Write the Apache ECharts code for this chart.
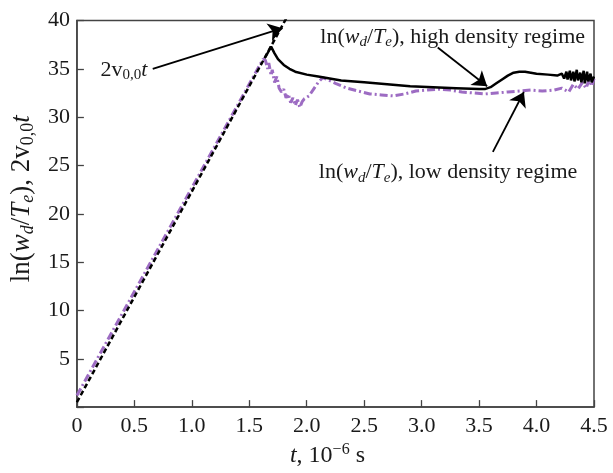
<!DOCTYPE html>
<html>
<head>
<meta charset="utf-8">
<script src="https://cdn.jsdelivr.net/npm/echarts@6/dist/echarts.min.js"></script>
<style>
  html, body { margin: 0; padding: 0; background: #fff; }
  #chart { width: 613px; height: 473px; }
</style>
</head>
<body>
<div id="chart"></div>
<script>
// reference line 2 v00 t
const tRef = [0, 1.83];
const lnRef = [0.5, 40.4];

// high density regime (its rising part lies under the dashed line)
const tHigh = [1.64, 1.69, 1.70, 1.72, 1.75, 1.80, 1.85, 1.90, 2.00, 2.10, 2.20, 2.30, 2.50, 2.70, 2.90,
  3.10, 3.30, 3.50, 3.55, 3.60, 3.65, 3.70, 3.75, 3.80, 3.85, 3.90, 3.95, 4.00, 4.10, 4.18, 4.22,
  4.24, 4.26, 4.27, 4.29, 4.30, 4.32, 4.33, 4.35, 4.36, 4.38, 4.39, 4.41, 4.42, 4.44, 4.45, 4.47,
  4.48, 4.50];
const lnHigh = [36.2, 37.3, 37.2, 36.6, 36.0, 35.4, 35.0, 34.7, 34.4, 34.2, 34.0, 33.8, 33.6, 33.4, 33.2,
  33.1, 33.0, 32.9, 32.9, 33.1, 33.5, 33.9, 34.3, 34.6, 34.7, 34.7, 34.6, 34.5, 34.4, 34.3, 34.5,
  34.0, 34.7, 33.9, 34.8, 33.8, 34.7, 33.7, 34.9, 33.8, 34.6, 33.6, 34.8, 33.5, 34.7, 33.7, 34.5,
  33.6, 34.2];

// low density regime
const tLow = [0, 1.62, 1.64, 1.66, 1.67, 1.69, 1.70, 1.72, 1.74, 1.76, 1.78, 1.80, 1.82, 1.84, 1.86,
  1.88, 1.90, 1.92, 1.94, 1.96, 1.98, 2.02, 2.06, 2.10, 2.14, 2.18, 2.25, 2.35, 2.45, 2.55, 2.65,
  2.75, 2.85, 2.95, 3.05, 3.15, 3.25, 3.35, 3.45, 3.55, 3.65, 3.75, 3.85, 3.95, 4.05, 4.15, 4.22,
  4.28, 4.32, 4.36, 4.40, 4.43, 4.46, 4.48, 4.50];
const lnLow = [1.2, 36.0, 35.9, 35.0, 35.6, 34.3, 34.9, 33.6, 34.2, 33.0, 32.6, 32.9, 32.0, 32.4, 31.5,
  32.0, 31.2, 31.8, 31.0, 31.6, 31.9, 32.2, 32.9, 33.6, 34.1, 33.9, 33.5, 33.0, 32.7, 32.4, 32.3,
  32.2, 32.4, 32.7, 32.8, 32.9, 32.8, 32.6, 32.5, 32.4, 32.5, 32.6, 32.7, 32.8, 32.7, 32.8, 33.0,
  32.6, 33.4, 32.9, 33.6, 33.0, 33.9, 33.2, 34.0];

// annotations: text anchor and arrow [from, to], in data units
const noteRef = { at: [0.41, 34.9], arrow: [[0.66, 35.0], [1.79, 39.2]] };
const noteHigh = { at: [3.27, 38.3], arrow: [[3.14, 37.2], [3.57, 33.2]] };
const noteLow = { at: [3.23, 24.3], arrow: [[3.62, 26.4], [3.89, 32.6]] };

const FONT = '"Liberation Serif", "DejaVu Serif", serif';
const INK = '#1a1a1a';

function richSet(size) {
  const sub = Math.round(size * 0.68);
  return {
    n: { fontFamily: FONT, fontSize: size, color: INK, lineHeight: size + 4 },
    i: { fontFamily: FONT, fontSize: size, color: INK, fontStyle: 'italic', lineHeight: size + 4 },
    s: { fontFamily: FONT, fontSize: sub, color: INK, fontStyle: 'italic', verticalAlign: 'bottom' },
    u: { fontFamily: FONT, fontSize: sub, color: INK, verticalAlign: 'bottom' },
    p: { fontFamily: FONT, fontSize: sub, color: INK, verticalAlign: 'top' }
  };
}

const lnText = '{n|ln(}{i|w}{s|d}{n|/}{i|T}{s|e}{n|)}';

const chart = echarts.init(document.getElementById('chart'), null, { renderer: 'canvas' });

function note(n, text) {
  return {
    coord: n.at, symbol: 'circle', symbolSize: 1, itemStyle: { color: 'rgba(0,0,0,0)' },
    label: { show: true, position: 'inside', formatter: text, rich: richSet(22) }
  };
}

chart.setOption({
  animation: false,
  grid: { left: 74, right: 19, top: 20.5, bottom: 64, show: true, borderColor: '#444', borderWidth: 1.5 },
  xAxis: {
    type: 'value', min: 0, max: 4.5, interval: 0.5,
    axisLine: { lineStyle: { color: '#444', width: 1.5 } },
    axisTick: { inside: true, length: 7, lineStyle: { color: '#444', width: 1.3 } },
    splitLine: { show: false },
    axisLabel: {
      margin: 8, fontFamily: FONT, fontSize: 22, color: INK,
      formatter: v => (v === 0 ? '0' : v.toFixed(1))
    },
    name: '{i|t}{n|, 10}{p|−6}{n| s}', nameLocation: 'middle', nameGap: 34,
    nameTextStyle: { rich: richSet(24), padding: [0, 16, 0, 0] }
  },
  yAxis: {
    type: 'value', min: 0, max: 40, interval: 5,
    axisLine: { lineStyle: { color: '#444', width: 1.5 } },
    axisTick: { inside: true, length: 7, lineStyle: { color: '#444', width: 1.3 } },
    splitLine: { show: false },
    axisLabel: {
      margin: 7, fontFamily: FONT, fontSize: 22, color: INK,
      formatter: v => (v === 0 ? '' : String(v))
    },
    name: lnText + '{n|, 2v}{u|0,0}{i|t}', nameLocation: 'middle', nameGap: 38, nameRotate: 90,
    nameTextStyle: { rich: richSet(27), padding: [0, 0, 0, 30] }
  },
  series: [
    {
      type: 'line', name: 'low', data: tLow.map((t, k) => [t, lnLow[k]]),
      showSymbol: false, clip: true, z: 2,
      lineStyle: { color: '#9d6cc3', width: 3, type: [8, 3, 2, 3] }
    },
    {
      type: 'line', name: 'high', data: tHigh.map((t, k) => [t, lnHigh[k]]),
      showSymbol: false, clip: true, z: 3,
      lineStyle: { color: '#000', width: 2.5 }
    },
    {
      type: 'line', name: 'ref', data: tRef.map((t, k) => [t, lnRef[k]]),
      showSymbol: false, clip: true, z: 4,
      lineStyle: { color: '#000', width: 2.5, type: [5, 3] }
    },
    {
      type: 'line', name: 'notes', data: [], z: 5,
      markLine: {
        silent: true, symbol: ['none', 'arrow'], symbolSize: 14,
        label: { show: false },
        lineStyle: { color: '#000', width: 1.8, type: 'solid' },
        data: [noteRef, noteHigh, noteLow].map(n => [{ coord: n.arrow[0] }, { coord: n.arrow[1] }])
      },
      markPoint: {
        silent: true,
        data: [
          note(noteRef, '{n|2v}{u|0,0}{i|t}'),
          note(noteHigh, lnText + '{n|, high density regime}'),
          note(noteLow, lnText + '{n|, low density regime}')
        ]
      }
    }
  ]
});
</script>
</body>
</html>
